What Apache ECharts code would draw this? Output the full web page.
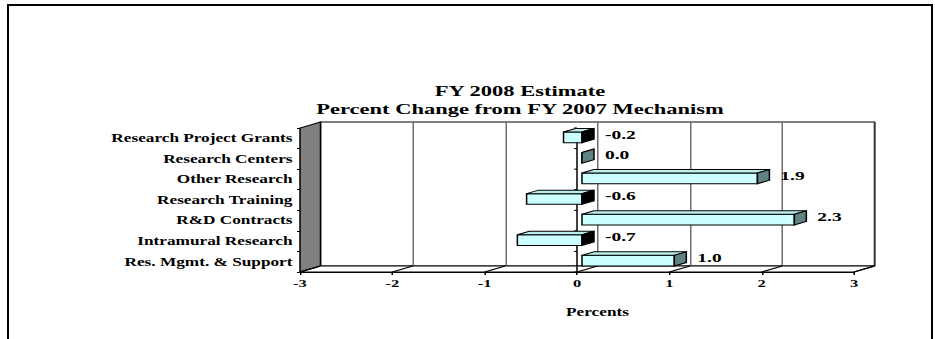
<!DOCTYPE html>
<html>
<head>
<meta charset="utf-8">
<script src="https://cdn.jsdelivr.net/npm/echarts@6/dist/echarts.min.js"></script>
<style>
  html, body { margin: 0; padding: 0; background: #fff; overflow: hidden; width: 935px; height: 339px; }
  #frame { position: absolute; left: 7px; top: 4px; width: 926px; height: 420px; border: 2px solid #000; box-sizing: border-box; }
  /* the chart is laid out in a narrower space and widened horizontally */
  #chart { position: absolute; left: 0; top: 0; width: 624px; height: 339px; transform: scaleX(1.5); transform-origin: 0 0; }
</style>
</head>
<body>
<div id="frame"></div>
<div id="chart"></div>
<script>
// ---- data ----
const categories = [
  'Research Project Grants',
  'Research Centers',
  'Other Research',
  'Research Training',
  'R&D Contracts',
  'Intramural Research',
  'Res. Mgmt. & Support'
];
const percentChange = [-0.2, 0.0, 1.9, -0.6, 2.3, -0.7, 1.0];
const valueTicks = [-3, -2, -1, 0, 1, 2, 3];
const titleLines = ['FY 2008 Estimate', 'Percent Change from FY 2007 Mechanism'];
const axisTitle = 'Percents';

// ---- drawing constants (layout units, widened 1.5x on screen) ----
const FONT = "'Liberation Serif', 'Times New Roman', serif";
const WALL_DX = 13.67, WALL_DY = -6;     // depth of the plot box
const BAR_OX = 3.33, BAR_OY = -1;        // bar front face offset inside the box
const BAR_DX = 8, BAR_DY = -3.5;         // bar depth
const LABEL_GAP = 7.3;

const chart = echarts.init(document.getElementById('chart'), null, { renderer: 'svg' });

function renderFrame(params, api) {
  const cs = params.coordSys;
  const left = cs.x, top = cs.y, right = cs.x + cs.width, bottom = cs.y + cs.height;
  const children = [];
  // side wall
  children.push({
    type: 'polygon',
    shape: { points: [[left, top], [left, bottom], [left + WALL_DX, bottom + WALL_DY], [left + WALL_DX, top + WALL_DY]] },
    style: { fill: '#808080', stroke: '#000', lineWidth: 1 }
  });
  // floor
  children.push({
    type: 'polygon',
    shape: { points: [[left, bottom], [right, bottom], [right + WALL_DX, bottom + WALL_DY], [left + WALL_DX, bottom + WALL_DY]] },
    style: { fill: '#fff', stroke: '#000', lineWidth: 1 }
  });
  // floor gridlines
  valueTicks.forEach(function (v) {
    const x = api.coord([v, 0])[0];
    children.push({
      type: 'line',
      shape: { x1: x, y1: bottom, x2: x + WALL_DX, y2: bottom + WALL_DY },
      style: { stroke: '#000', lineWidth: 1 }
    });
  });
  // category axis crossing at zero
  const x0 = api.coord([0, 0])[0];
  children.push({
    type: 'line',
    shape: { x1: x0, y1: top, x2: x0, y2: bottom },
    style: { stroke: '#000', lineWidth: 1 }
  });
  const band = api.size([0, 1])[1];
  for (let i = 0; i <= categories.length; i++) {
    const y = top + i * band;
    children.push({
      type: 'line',
      shape: { x1: x0 - 2, y1: y, x2: x0, y2: y },
      style: { stroke: '#000', lineWidth: 1 }
    });
  }
  return { type: 'group', children: children };
}

function renderBar(params, api) {
  const v = api.value(0);
  const i = api.value(1);
  const band = api.size([0, 1])[1];
  const pv = api.coord([v, i]);
  const x0 = api.coord([0, i])[0];
  const xa = Math.min(pv[0], x0) + BAR_OX;
  const xb = Math.max(pv[0], x0) + BAR_OX;
  const cy = pv[1] + BAR_OY;
  const half = band * 0.26;
  const yt = cy - half, yb = cy + half;
  const edge = { stroke: '#000', lineWidth: 1 };
  return {
    type: 'group',
    children: [
      {
        type: 'rect',
        shape: { x: xa, y: yt, width: xb - xa, height: yb - yt },
        style: Object.assign({ fill: '#CCFFFF' }, edge)
      },
      {
        type: 'polygon',
        shape: { points: [[xa, yt], [xb, yt], [xb + BAR_DX, yt + BAR_DY], [xa + BAR_DX, yt + BAR_DY]] },
        style: Object.assign({ fill: '#BDEFEF' }, edge)
      },
      {
        type: 'polygon',
        shape: { points: [[xb, yt], [xb, yb], [xb + BAR_DX, yb + BAR_DY], [xb + BAR_DX, yt + BAR_DY]] },
        style: Object.assign({ fill: v < 0 ? '#000' : '#5F8282' }, edge)
      },
      {
        type: 'text',
        style: {
          text: v.toFixed(1),
          x: xb + BAR_DX + LABEL_GAP,
          y: cy - 3,
          align: 'left',
          verticalAlign: 'middle',
          fill: '#000',
          fontSize: 13,
          fontWeight: 'bold',
          fontFamily: FONT
        }
      }
    ]
  };
}

const option = {
  animation: false,
  backgroundColor: 'transparent',
  graphic: [
    {
      type: 'text',
      style: { text: titleLines[0], x: 346.67, y: 91, align: 'center', verticalAlign: 'middle',
               fill: '#000', fontSize: 15, fontWeight: 'bold', fontFamily: FONT }
    },
    {
      type: 'text',
      style: { text: titleLines[1], x: 346.67, y: 109, align: 'center', verticalAlign: 'middle',
               fill: '#000', fontSize: 15, fontWeight: 'bold', fontFamily: FONT }
    }
  ],
  grid: [
    // front plane
    { left: 200, top: 128, width: 369.33, height: 144, containLabel: false },
    // back wall
    { left: 213.67, top: 122, width: 369.33, height: 144, show: true,
      backgroundColor: '#fff', borderColor: '#000', borderWidth: 1 }
  ],
  xAxis: [
    {
      gridIndex: 0, type: 'value', min: -3, max: 3, interval: 1,
      axisLine: { show: true, lineStyle: { color: '#000', width: 1 } },
      axisTick: { show: true, length: 3, lineStyle: { color: '#000' } },
      axisLabel: { margin: 6, color: '#000', fontSize: 11, fontWeight: 'bold', fontFamily: FONT,
                   formatter: function (v) { return String(v); } },
      splitLine: { show: false }
    },
    {
      gridIndex: 1, type: 'value', min: -3, max: 3, interval: 1,
      axisLine: { show: false }, axisTick: { show: false }, axisLabel: { show: false },
      splitLine: { show: true, lineStyle: { color: '#6e6e6e', width: 1 } },
      name: axisTitle, nameLocation: 'middle', nameGap: 40,
      nameTextStyle: { color: '#000', fontSize: 11.5, fontWeight: 'bold', fontFamily: FONT }
    }
  ],
  yAxis: [
    {
      gridIndex: 0, type: 'category', data: categories, inverse: true,
      axisLine: { show: true, onZero: false, lineStyle: { color: '#000', width: 1 } },
      axisTick: { show: true, length: 2, lineStyle: { color: '#000' } },
      axisLabel: { margin: 5, color: '#000', fontSize: 11.5, fontWeight: 'bold', fontFamily: FONT },
      splitLine: { show: false }
    },
    {
      gridIndex: 1, type: 'category', data: categories, inverse: true,
      axisLine: { show: false }, axisTick: { show: false }, axisLabel: { show: false },
      splitLine: { show: false }
    }
  ],
  series: [
    {
      type: 'custom', name: 'frame', xAxisIndex: 0, yAxisIndex: 0, z: 2,
      renderItem: renderFrame,
      data: [[0, 0]],
      encode: { x: 0, y: 1 },
      silent: true
    },
    {
      type: 'custom', name: 'Percent change', xAxisIndex: 0, yAxisIndex: 0, z: 3,
      renderItem: renderBar,
      data: percentChange.map(function (v, i) { return [v, i]; }),
      encode: { x: 0, y: 1 }
    }
  ]
};

chart.setOption(option);
</script>
</body>
</html>
